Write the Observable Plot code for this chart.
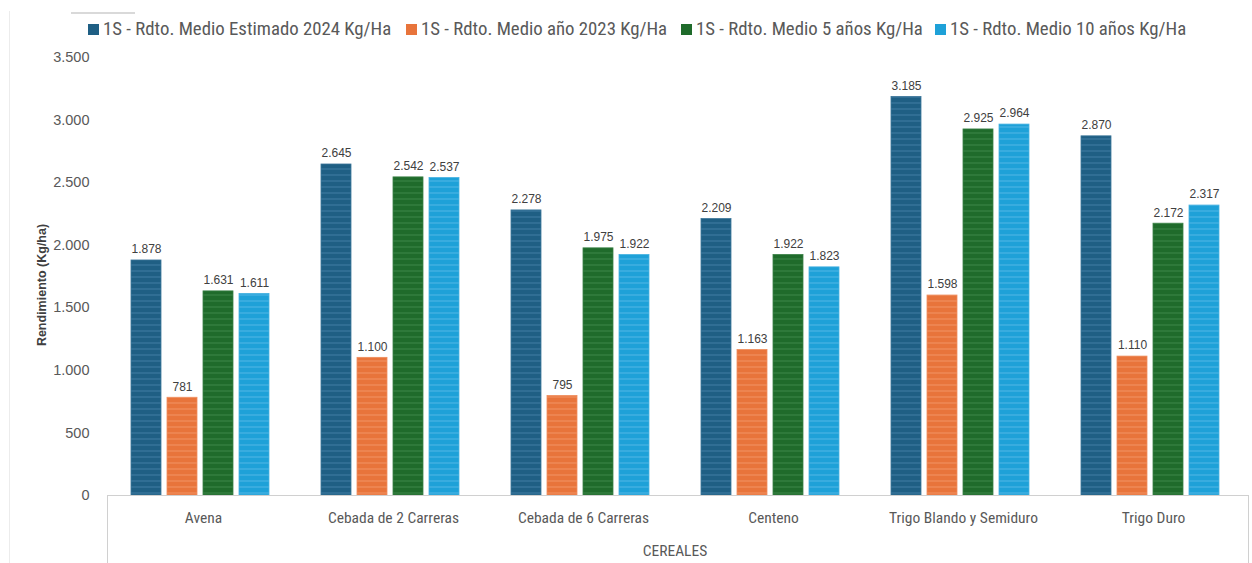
<!DOCTYPE html>
<html>
<head>
<meta charset="utf-8">
<script src="https://cdn.jsdelivr.net/npm/d3@7"></script>
<script src="https://cdn.jsdelivr.net/npm/@observablehq/plot@0.6"></script>
<style>
  html, body { margin: 0; padding: 0; background: #fff; }
  #wrap { position: relative; width: 1252px; height: 563px; overflow: hidden; font-family: "Liberation Sans", Arial, sans-serif; }
  #legend { position: absolute; top: 0; left: 0; width: 1252px; height: 45px; }
  .li { position: absolute; top: 18px; display: flex; align-items: center; font-family: "Liberation Sans Narrow", "Roboto Condensed", "Liberation Sans", sans-serif; font-size: 18.8px; color: #595959; white-space: nowrap; }
  .sw { width: 11px; height: 11px; margin-right: 4px; }
  #chart { position: absolute; top: 45px; left: 0; }
  #ylab { position: absolute; left: 42px; top: 285px; transform: translate(-50%, -50%) rotate(-90deg); font-weight: bold; font-size: 12.5px; color: #404040; white-space: nowrap; }
  #xlab { position: absolute; left: 675px; top: 551px; transform: translate(-50%, -50%); font-family: "Liberation Sans Narrow", "Roboto Condensed", sans-serif; font-size: 15.5px; color: #595959; }
  #box { position: absolute; left: 107px; top: 495px; width: 1142px; height: 80px; border-left: 1px solid #d0d0d0; border-right: 1px solid #d0d0d0; box-sizing: border-box; }
  #deco1 { position: absolute; left: 71px; top: 12px; width: 64px; height: 0; border-top: 2px solid #d9d9d9; }
  #deco2 { position: absolute; left: 9px; top: 11px; width: 0; height: 560px; border-left: 1px solid #ececec; }
</style>
</head>
<body>
<div id="wrap">
  <div id="deco1"></div>
  <div id="deco2"></div>
  <div id="legend"></div>
  <div id="chart"></div>
  <div id="box"></div>
  <div id="ylab">Rendimiento (Kg/ha)</div>
  <div id="xlab">CEREALES</div>
</div>
<script>
const categories = ["Avena", "Cebada de 2 Carreras", "Cebada de 6 Carreras", "Centeno", "Trigo Blando y Semiduro", "Trigo Duro"];
const seriesNames = [
  "1S - Rdto. Medio Estimado 2024 Kg/Ha",
  "1S - Rdto. Medio año 2023 Kg/Ha",
  "1S - Rdto. Medio 5 años Kg/Ha",
  "1S - Rdto. Medio 10 años Kg/Ha"
];
const est2024 = [1878, 2645, 2278, 2209, 3185, 2870];
const year2023 = [781, 1100, 795, 1163, 1598, 1110];
const avg5 = [1631, 2542, 1975, 1922, 2925, 2172];
const avg10 = [1611, 2537, 1922, 1823, 2964, 2317];
const yTicks = [0, 500, 1000, 1500, 2000, 2500, 3000, 3500];

const baseColors = ["#1f5f84", "#e8743b", "#1f6b2b", "#1ea1d8"];
const stripeColors = ["#306e94", "#ed8450", "#2e793a", "#38acdf"];
const edgeColors = ["#3b7599", "#ef8d5c", "#3a8146", "#46b2e1"];

const seriesValues = [est2024, year2023, avg5, avg10];
const data = [];
seriesValues.forEach((vals, si) => {
  vals.forEach((v, ci) => data.push({cat: categories[ci], series: seriesNames[si], si, value: v}));
});

const loc = d3.formatLocale({decimal: ",", thousands: ".", grouping: [3], currency: ["", "€"]});
const fmt = loc.format(",d");

// Legend
const legendLeft = [88, 406, 681, 935];
const legend = document.getElementById("legend");
seriesNames.forEach((name, i) => {
  const item = document.createElement("div");
  item.className = "li";
  item.style.left = legendLeft[i] + "px";
  const sw = document.createElement("span");
  sw.className = "sw";
  sw.style.background = baseColors[i];
  const t = document.createElement("span");
  t.textContent = name;
  item.appendChild(sw); item.appendChild(t);
  legend.appendChild(item);
});

const marks = [];
seriesNames.forEach((name, i) => {
  marks.push(Plot.barY(data.filter(d => d.si === i), {
    fx: "cat", x: "series", y: "value",
    fill: `url(#pat${i})`, stroke: edgeColors[i], strokeWidth: 0.8
  }));
});
marks.push(Plot.ruleY([0], {stroke: "#d0d0d0", strokeWidth: 1}));
marks.push(Plot.text(data, {
  fx: "cat", x: "series", y: "value", text: d => fmt(d.value),
  dy: -11, fontSize: 12, fill: "#404040", fontFamily: "Liberation Sans, Arial, sans-serif"
}));
marks.push(Plot.axisY({
  ticks: yTicks, tickFormat: fmt, tickSize: 0, tickPadding: 19,
  fontSize: 14.5, fill: "#595959", label: null, fontFamily: "Liberation Sans, Arial, sans-serif"
}));
marks.push(Plot.axisFx({
  anchor: "bottom", tickSize: 0, tickPadding: 16, label: null,
  fontSize: 15.5, fill: "#595959", fontFamily: "Liberation Sans Narrow, Roboto Condensed, sans-serif"
}));

const chart = Plot.plot({
  width: 1252,
  height: 518,
  marginTop: 12,
  marginBottom: 68,
  marginLeft: 108,
  marginRight: 4,
  fx: {domain: categories, padding: 0, label: null},
  x: {domain: seriesNames, paddingInner: 0.16, paddingOuter: 0.65, align: 0.45, axis: null},
  y: {domain: [0, 3500], axis: null},
  style: {fontFamily: "Liberation Sans, Arial, sans-serif", background: "transparent"},
  marks
});

// stripe pattern defs
const ns = "http://www.w3.org/2000/svg";
const defs = document.createElementNS(ns, "defs");
baseColors.forEach((c, i) => {
  const p = document.createElementNS(ns, "pattern");
  p.setAttribute("id", "pat" + i);
  p.setAttribute("patternUnits", "userSpaceOnUse");
  p.setAttribute("width", "10");
  p.setAttribute("height", "6");
  const r1 = document.createElementNS(ns, "rect");
  r1.setAttribute("width", "10"); r1.setAttribute("height", "6"); r1.setAttribute("fill", c);
  const r2 = document.createElementNS(ns, "rect");
  r2.setAttribute("y", "3"); r2.setAttribute("width", "10"); r2.setAttribute("height", "2"); r2.setAttribute("fill", stripeColors[i]);
  p.appendChild(r1); p.appendChild(r2);
  defs.appendChild(p);
});
chart.insertBefore(defs, chart.firstChild);
document.getElementById("chart").appendChild(chart);
</script>
</body>
</html>
